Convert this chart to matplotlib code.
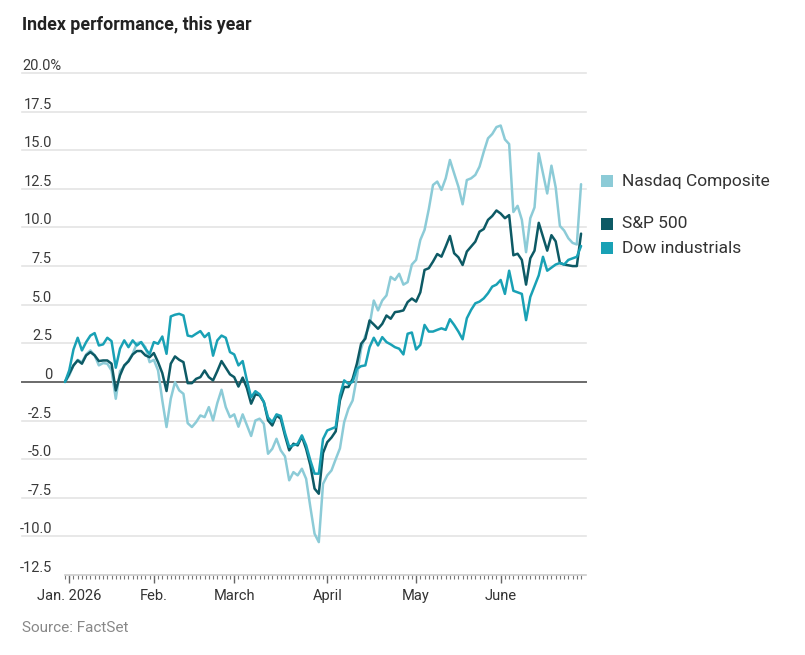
import matplotlib
matplotlib.use("Agg")
import matplotlib.pyplot as plt
import matplotlib.transforms as mtransforms
from matplotlib.patches import Rectangle
import numpy as np

plt.rcParams['font.family'] = ['Roboto', 'DejaVu Sans']

# ---- data (percent change year to date, one value per trading day) ----
nasdaq = [0, 0.42, 1.07, 1.43, 1.28, 1.78, 2.04, 1.72, 1.07, 1.22,
          1.18, 0.74, -1.09, 0.7, 1.0, 1.39, 1.82, 2.51, 2.58, 2.25,
          1.28, 1.43, 0.74, -1.2, -2.92, -1.09, -0.01, -0.55, -0.77, -2.67,
          -2.92, -2.6, -2.17, -2.28, -1.63, -2.49, -1.37, -0.51, -1.63, -2.28,
          -2.1, -2.9, -2.1, -2.8, -3.5, -2.5, -2.38, -2.71, -4.65, -4.33,
          -3.68, -4.43, -4.82, -6.37, -5.84, -6.05, -5.62, -6.27, -8.1, -9.83,
          -10.37, -6.6, -6.05, -5.73, -5.0, -4.3, -2.6, -1.74, -1.2, 0.31,
          2.15, 3.0, 3.66, 5.27, 4.63, 5.27, 5.6, 6.8, 6.6, 7.0,
          6.3, 6.46, 7.6, 7.9, 9.19, 9.84, 11.18, 12.75, 12.97, 12.43,
          13.18, 14.37, 13.5, 12.64, 11.5, 13.07, 13.18, 13.4, 13.94, 14.9,
          15.77, 16.05, 16.5, 16.6, 15.7, 15.4, 11.0, 11.4, 10.5, 8.4,
          10.6, 11.3, 14.8, 13.5, 12.2, 14.0, 12.6, 10.1, 9.8, 9.3,
          9.0, 8.9, 12.8]

sp500 = [0, 0.53, 1.07, 1.39, 1.18, 1.72, 1.93, 1.72, 1.35, 1.39,
         1.39, 1.18, -0.55, 0.42, 1.07, 1.33, 1.78, 2.0, 2.0, 1.72,
         1.6, 1.87, 1.28, 0.57, -0.59, 1.18, 1.65, 1.43, 1.28, -0.08,
         -0.08, 0.2, 0.31, 0.74, 0.31, 0.1, 0.7, 1.35, 0.92, 0.49,
         0.31, -0.3, 0.28, -0.4, -1.41, -0.8, -0.87, -1.3, -2.49, -2.82,
         -2.17, -2.38, -3.46, -4.43, -4.0, -4.11, -3.53, -4.33, -5.4, -6.91,
         -7.24, -4.6, -3.9, -3.6, -3.2, -1.2, -0.33, -0.33, 0.2, 1.18,
         2.47, 2.8, 3.98, 3.72, 3.44, 3.76, 4.3, 4.09, 4.52, 4.56,
         4.63, 5.17, 5.4, 5.2, 5.8, 7.25, 7.36, 7.79, 8.28, 8.11,
         8.76, 9.45, 8.33, 8.07, 7.57, 8.44, 8.76, 9.08, 9.73, 9.9,
         10.49, 10.74, 11.1, 10.9, 10.6, 10.8, 8.2, 8.3, 7.9, 6.3,
         8.0, 8.5, 10.3, 9.4, 8.5, 9.5, 9.1, 7.7, 7.6, 7.55,
         7.5, 7.5, 9.6]

dow = [0, 0.75, 2.1, 2.86, 2.04, 2.58, 3.0, 3.16, 2.36, 2.43,
       2.86, 2.64, 0.92, 2.15, 2.69, 2.25, 2.69, 2.36, 2.58, 2.15,
       1.8, 2.58, 2.47, 2.94, 1.82, 4.24, 4.35, 4.41, 4.3, 3.0,
       2.94, 3.12, 3.29, 2.9, 3.16, 1.7, 2.69, 3.0, 2.86, 1.93,
       1.78, 1.07, 1.35, 0.1, -1.0, -0.6, -0.8, -1.3, -2.3, -2.6,
       -2.1, -2.2, -3.3, -4.2, -4.1, -4.0, -3.46, -4.1, -5.08, -5.94,
       -5.94, -3.7, -3.14, -3.03, -2.92, -0.9, 0.1, -0.12, 0.0, 0.85,
       1.02, 1.07, 2.25, 2.86, 2.36, 2.9, 2.58, 2.43, 2.25, 2.15,
       1.78, 3.12, 3.2, 2.1, 2.4, 3.69, 3.26, 3.26, 3.37, 3.47,
       3.37, 4.06, 3.69, 3.26, 2.76, 4.12, 4.66, 5.09, 5.2, 5.41,
       5.74, 6.17, 6.3, 6.6, 5.7, 7.2, 5.9, 5.8, 5.7, 4.0,
       5.5, 6.2, 6.9, 8.1, 7.2, 7.4, 7.6, 7.7, 7.6, 7.9,
       8.0, 8.1, 8.8]

series_names = ["Nasdaq Composite", "S&P 500", "Dow industrials"]
series_colors = ["#8ccbd7", "#0d5a65", "#19a1b5"]

month_idx = [1, 21, 40, 62, 83, 103]
month_labels = ["Jan. 2026", "Feb.", "March", "April", "May", "June"]

y_ticks = [20.0, 17.5, 15.0, 12.5, 10.0, 7.5, 5.0, 2.5, 0.0, -2.5, -5.0, -7.5, -10.0, -12.5]
y_labels = ["20.0%", "17.5", "15.0", "12.5", "10.0", "7.5", "5.0", "2.5", "0",
            "-2.5", "-5.0", "-7.5", "-10.0", "-12.5"]

# ---- figure ----
W, H = 805, 655
fig = plt.figure(figsize=(W / 100, H / 100), dpi=100)
fig.patch.set_facecolor("white")
ax = fig.add_axes([22 / W, 80 / H, 564 / W, 502 / H])
n = len(nasdaq)
x = np.arange(n)
ax.set_xlim(-10.17, 123.17)
ax.set_ylim(-12.5, 20.0)

for s in ["top", "left", "right"]:
    ax.spines[s].set_visible(False)
ax.spines["bottom"].set_bounds(0, 123.17)
ax.spines["bottom"].set_color("#cccccc")
ax.spines["bottom"].set_linewidth(1.2)

for yv in y_ticks:
    if yv == -12.5:
        continue
    if yv == 0:
        ax.axhline(yv, color="#6a6a6a", lw=1.4, zorder=2, clip_on=False)
    else:
        ax.axhline(yv, color="#e4e4e4", lw=1.2, zorder=1, clip_on=False)

blend = mtransforms.blended_transform_factory(ax.transAxes, ax.transData)
lab_tr = mtransforms.offset_copy(blend, fig=fig, x=0, y=3, units="dots")
xr = 30 / 564
for yv, lab in zip(y_ticks, y_labels):
    if lab.endswith("%"):
        ax.text(0.0, yv, lab, transform=lab_tr, ha="left", va="baseline",
                fontsize=10.5, color="#3a3a3a")
    else:
        ax.text(xr, yv, lab, transform=lab_tr, ha="right", va="baseline",
                fontsize=10.5, color="#3a3a3a")
ax.set_yticks([])

ax.set_xticks(month_idx)
ax.set_xticklabels(month_labels)
ax.set_xticks(np.arange(0, n), minor=True)
ax.tick_params(axis="x", which="major", length=6, width=1, color="#666666",
               pad=4, labelsize=10.5, labelcolor="#333333")
ax.tick_params(axis="x", which="minor", length=3, width=0.8, color="#777777")

order = [0, 2, 1]
data = [nasdaq, sp500, dow]
for k in order:
    ax.plot(x, data[k], color=series_colors[k], lw=1.8, zorder=3 + k,
            solid_joinstyle="round", solid_capstyle="round")

# ---- legend ----
leg_y = [181, 224, 248]
for name, col, yc in zip(series_names, series_colors, leg_y):
    fig.add_artist(Rectangle((601 / W, 1 - (yc + 6) / H), 12 / W, 12 / H,
                             transform=fig.transFigure, color=col, lw=0))
    fig.text(622 / W, 1 - yc / H, name, fontsize=12.5, color="#333333",
             va="center", ha="left")

fig.text(22 / W, 1 - 25 / H, "Index performance, this year", fontsize=12.8,
         fontweight="bold", color="#222222", va="center", ha="left")
fig.text(22 / W, 1 - 628 / H, "Source: FactSet", fontsize=11, color="#888888",
         va="center", ha="left")

fig.savefig("out.png", dpi=100, facecolor="white")
